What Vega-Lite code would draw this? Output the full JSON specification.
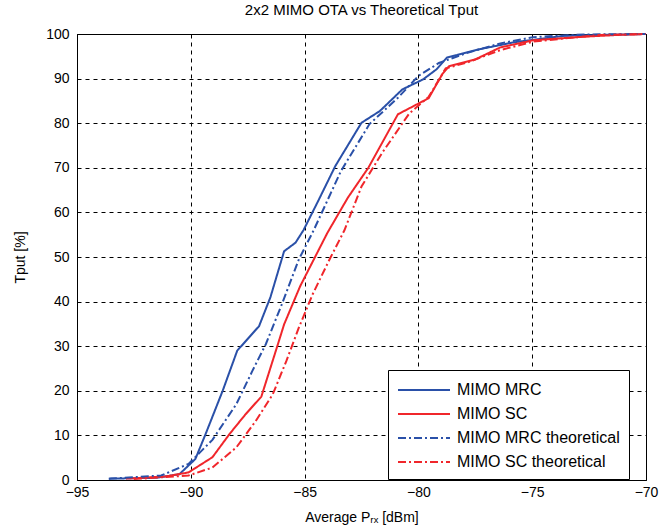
{
  "$schema": "https://vega.github.io/schema/vega-lite/v6.json",
  "width": 569,
  "height": 446,
  "autosize": {"type": "none"},
  "padding": {"left": 77, "top": 34, "right": 21, "bottom": 51},
  "background": "white",
  "title": {"text": "2x2 MIMO OTA vs Theoretical Tput", "fontSize": 15, "fontWeight": "normal", "font": "Liberation Sans", "color": "black", "offset": 9},
  "config": {
    "view": {"stroke": "black", "strokeWidth": 1},
    "font": "Liberation Sans",
    "axis": {"labelFont": "Liberation Sans", "titleFont": "Liberation Sans", "labelColor": "black", "titleColor": "black", "labelFontSize": 14, "titleFontSize": 14, "titleFontWeight": "normal", "domainColor": "black", "gridColor": "black", "gridDash": [4, 4], "gridOpacity": 1, "gridWidth": 1, "ticks": false},
    "legend": {"title": null, "orient": "none", "legendX": 311, "legendY": 336, "fillColor": "white", "strokeColor": "black", "padding": 9, "symbolType": "M-2.6,0H2.6", "symbolSize": 400, "symbolStrokeWidth": 2, "symbolOffset": 16, "labelFontSize": 16, "labelLimit": 300, "labelFont": "Liberation Sans", "labelColor": "black", "rowPadding": 5, "labelOffset": 22}
  },
  "data": {"values": [
    {"series": "MIMO MRC", "x": -93.6, "y": 0.3},
    {"series": "MIMO MRC", "x": -91.5, "y": 0.5},
    {"series": "MIMO MRC", "x": -90.5, "y": 1.3},
    {"series": "MIMO MRC", "x": -89.8, "y": 4.7},
    {"series": "MIMO MRC", "x": -89.35, "y": 10.3},
    {"series": "MIMO MRC", "x": -88.6, "y": 20},
    {"series": "MIMO MRC", "x": -87.96, "y": 29},
    {"series": "MIMO MRC", "x": -87.0, "y": 34.5},
    {"series": "MIMO MRC", "x": -86.5, "y": 41},
    {"series": "MIMO MRC", "x": -85.9, "y": 51.3},
    {"series": "MIMO MRC", "x": -85.4, "y": 53.2},
    {"series": "MIMO MRC", "x": -85.05, "y": 56},
    {"series": "MIMO MRC", "x": -84.4, "y": 62.6},
    {"series": "MIMO MRC", "x": -83.65, "y": 70.4},
    {"series": "MIMO MRC", "x": -82.5, "y": 80.1},
    {"series": "MIMO MRC", "x": -81.7, "y": 82.7},
    {"series": "MIMO MRC", "x": -80.7, "y": 87.6},
    {"series": "MIMO MRC", "x": -79.8, "y": 89.8},
    {"series": "MIMO MRC", "x": -79.2, "y": 92.1},
    {"series": "MIMO MRC", "x": -78.75, "y": 94.7},
    {"series": "MIMO MRC", "x": -77.3, "y": 96.6},
    {"series": "MIMO MRC", "x": -75.85, "y": 98.1},
    {"series": "MIMO MRC", "x": -73.6, "y": 99.6},
    {"series": "MIMO MRC", "x": -70, "y": 100},
    {"series": "MIMO SC", "x": -92.85, "y": 0.3},
    {"series": "MIMO SC", "x": -91.1, "y": 0.8},
    {"series": "MIMO SC", "x": -90.1, "y": 1.7},
    {"series": "MIMO SC", "x": -89.05, "y": 5.1},
    {"series": "MIMO SC", "x": -88.3, "y": 10.3},
    {"series": "MIMO SC", "x": -87.6, "y": 14.7},
    {"series": "MIMO SC", "x": -86.9, "y": 18.7},
    {"series": "MIMO SC", "x": -86.2, "y": 30},
    {"series": "MIMO SC", "x": -85.9, "y": 34.9},
    {"series": "MIMO SC", "x": -85.2, "y": 43.4},
    {"series": "MIMO SC", "x": -84.0, "y": 55.4},
    {"series": "MIMO SC", "x": -83.1, "y": 63.3},
    {"series": "MIMO SC", "x": -82.2, "y": 70},
    {"series": "MIMO SC", "x": -80.9, "y": 82},
    {"series": "MIMO SC", "x": -80.15, "y": 84},
    {"series": "MIMO SC", "x": -79.55, "y": 85.6},
    {"series": "MIMO SC", "x": -78.95, "y": 91},
    {"series": "MIMO SC", "x": -78.65, "y": 92.8},
    {"series": "MIMO SC", "x": -77.5, "y": 94.3},
    {"series": "MIMO SC", "x": -76.4, "y": 97.0},
    {"series": "MIMO SC", "x": -74.95, "y": 98.6},
    {"series": "MIMO SC", "x": -72.7, "y": 99.4},
    {"series": "MIMO SC", "x": -71.2, "y": 99.8},
    {"series": "MIMO SC", "x": -70, "y": 100},
    {"series": "MIMO MRC theoretical", "x": -93.6, "y": 0.3},
    {"series": "MIMO MRC theoretical", "x": -91.3, "y": 1},
    {"series": "MIMO MRC theoretical", "x": -90.1, "y": 3.6},
    {"series": "MIMO MRC theoretical", "x": -89.05, "y": 9},
    {"series": "MIMO MRC theoretical", "x": -88.0, "y": 17},
    {"series": "MIMO MRC theoretical", "x": -87.3, "y": 24.4},
    {"series": "MIMO MRC theoretical", "x": -86.7, "y": 30.5},
    {"series": "MIMO MRC theoretical", "x": -86.0, "y": 39.4},
    {"series": "MIMO MRC theoretical", "x": -85.25, "y": 49.5},
    {"series": "MIMO MRC theoretical", "x": -84.6, "y": 56},
    {"series": "MIMO MRC theoretical", "x": -83.4, "y": 69.3},
    {"series": "MIMO MRC theoretical", "x": -82.15, "y": 79.8},
    {"series": "MIMO MRC theoretical", "x": -80.9, "y": 85.7},
    {"series": "MIMO MRC theoretical", "x": -80.0, "y": 90.6},
    {"series": "MIMO MRC theoretical", "x": -79.1, "y": 93.5},
    {"series": "MIMO MRC theoretical", "x": -77.9, "y": 95.7},
    {"series": "MIMO MRC theoretical", "x": -76.4, "y": 97.9},
    {"series": "MIMO MRC theoretical", "x": -74.95, "y": 99.3},
    {"series": "MIMO MRC theoretical", "x": -72.7, "y": 99.9},
    {"series": "MIMO MRC theoretical", "x": -70, "y": 100},
    {"series": "MIMO SC theoretical", "x": -92.5, "y": 0.2},
    {"series": "MIMO SC theoretical", "x": -90.1, "y": 1},
    {"series": "MIMO SC theoretical", "x": -89.05, "y": 2.8},
    {"series": "MIMO SC theoretical", "x": -88.0, "y": 7.3},
    {"series": "MIMO SC theoretical", "x": -87.15, "y": 13.2},
    {"series": "MIMO SC theoretical", "x": -86.4, "y": 19.2},
    {"series": "MIMO SC theoretical", "x": -85.8, "y": 26.7},
    {"series": "MIMO SC theoretical", "x": -85.25, "y": 34.2},
    {"series": "MIMO SC theoretical", "x": -84.65, "y": 41.6},
    {"series": "MIMO SC theoretical", "x": -83.9, "y": 49.5},
    {"series": "MIMO SC theoretical", "x": -83.25, "y": 56},
    {"series": "MIMO SC theoretical", "x": -82.5, "y": 65.8},
    {"series": "MIMO SC theoretical", "x": -81.6, "y": 73.3},
    {"series": "MIMO SC theoretical", "x": -80.4, "y": 82.2},
    {"series": "MIMO SC theoretical", "x": -79.55, "y": 85.9},
    {"series": "MIMO SC theoretical", "x": -78.8, "y": 92.3},
    {"series": "MIMO SC theoretical", "x": -77.8, "y": 93.7},
    {"series": "MIMO SC theoretical", "x": -76.4, "y": 96.4},
    {"series": "MIMO SC theoretical", "x": -74.95, "y": 98.3},
    {"series": "MIMO SC theoretical", "x": -72.0, "y": 99.8},
    {"series": "MIMO SC theoretical", "x": -70, "y": 100}
  ]},
  "mark": {"type": "line", "strokeWidth": 2},
  "encoding": {
    "x": {"field": "x", "type": "quantitative", "scale": {"domain": [-95, -70], "nice": false},
      "axis": {"values": [-95, -90, -85, -80, -75, -70], "title": "Average Pᵣₓ [dBm]", "labelPadding": 5, "titlePadding": 11, "labelFlush": false}},
    "y": {"field": "y", "type": "quantitative", "scale": {"domain": [0, 100], "nice": false},
      "axis": {"values": [0, 10, 20, 30, 40, 50, 60, 70, 80, 90, 100], "title": "Tput [%]", "labelPadding": 8, "titlePadding": 18}},
    "color": {"field": "series", "type": "nominal",
      "scale": {"domain": ["MIMO MRC", "MIMO SC", "MIMO MRC theoretical", "MIMO SC theoretical"], "range": ["#2a50a8", "#f0262b", "#2a50a8", "#f0262b"]}},
    "strokeDash": {"field": "series", "type": "nominal",
      "scale": {"domain": ["MIMO MRC", "MIMO SC", "MIMO MRC theoretical", "MIMO SC theoretical"], "range": [[1, 0], [1, 0], [8, 3, 2, 3], [8, 3, 2, 3]]}}
  }
}
